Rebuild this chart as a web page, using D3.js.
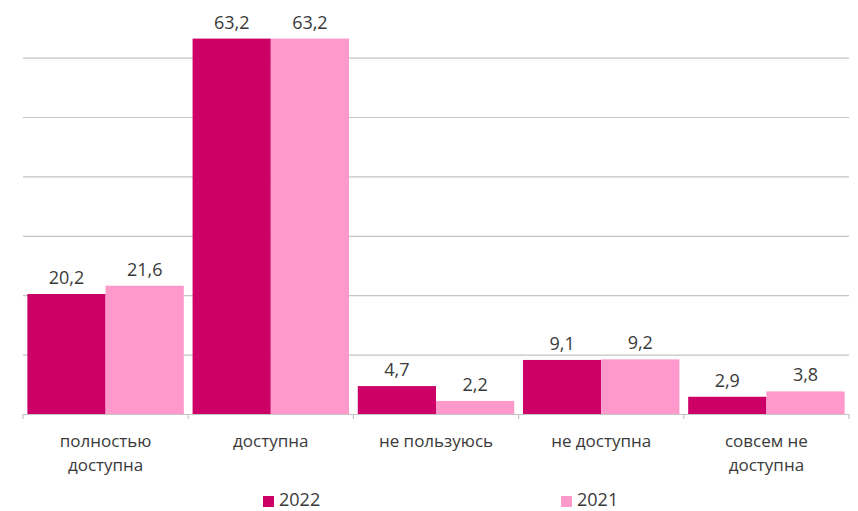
<!DOCTYPE html>
<html><head><meta charset="utf-8">
<script src="https://cdn.jsdelivr.net/npm/d3@7"></script>
<style>body{margin:0;background:#fff}svg{display:block}</style>
</head><body><svg id="c" width="858" height="511"></svg>
<script>
const categories = [["полностью","доступна"],["доступна"],["не пользуюсь"],["не доступна"],["совсем не","доступна"]];
const catKeys = ["полностью доступна","доступна","не пользуюсь","не доступна","совсем не доступна"];
const series = ["2022","2021"];
const values2022 = [20.2, 63.2, 4.7, 9.1, 2.9];
const values2021 = [21.6, 63.2, 2.2, 9.2, 3.8];
const yTicks = [0,10,20,30,40,50,60,70];
const colors = ["#CC0066","#FF99CC"];

const svg = d3.select("#c");
const font = "'Open Sans', sans-serif";
const left = 23, right = 849, base = 414;
const x = d3.scaleBand().domain(catKeys).range([left,right]).paddingInner(0.053).paddingOuter(0.0265);
const xs = d3.scaleBand().domain(series).range([0,x.bandwidth()]);
const y = d3.scaleLinear().domain([0,70]).range([base,-1.8]);

// gridlines
svg.append("g").selectAll("line").data(yTicks.filter(t=>t>0 && y(t)>0)).join("line")
  .attr("x1",left).attr("x2",right).attr("y1",d=>y(d)+0.5).attr("y2",d=>y(d)+0.5)
  .attr("stroke","#c4c4c4").attr("stroke-width",1.2);

const data = catKeys.map((c,i)=>({c, v:[values2022[i],values2021[i]]}));
const g = svg.append("g");
data.forEach(d=>{
  d.v.forEach((v,j)=>{
    const bx = x(d.c)+xs(series[j]);
    g.append("rect").attr("x",bx).attr("y",y(v)).attr("width",xs.bandwidth()).attr("height",base-y(v)).attr("fill",colors[j]);
    g.append("text").attr("x",bx+xs.bandwidth()/2).attr("y",y(v)-10).attr("text-anchor","middle")
      .attr("font-family",font).attr("font-size",18).attr("fill","#3a3a3a").text(String(v).replace(".",","));
  });
});

// axis baseline and ticks
svg.append("line").attr("x1",left).attr("x2",right).attr("y1",base+0.5).attr("y2",base+0.5).attr("stroke","#c4c4c4").attr("stroke-width",1.2);
const edges = d3.range(catKeys.length+1).map(i=>left+(right-left)*i/catKeys.length);
svg.append("g").selectAll("line").data(edges).join("line")
  .attr("x1",d=>d).attr("x2",d=>d).attr("y1",base).attr("y2",base+5).attr("stroke","#c4c4c4").attr("stroke-width",1.2);

// category labels
categories.forEach((lines,i)=>{
  const cx = x(catKeys[i])+x.bandwidth()/2;
  lines.forEach((t,k)=>{
    svg.append("text").attr("x",cx).attr("y",447+k*24).attr("text-anchor","middle")
      .attr("font-family",font).attr("font-size",17).attr("fill","#3a3a3a").text(t);
  });
});

// legend
const legX = [263, 561];
series.forEach((s,j)=>{
  svg.append("rect").attr("x",legX[j]).attr("y",496).attr("width",11).attr("height",11).attr("fill",colors[j]);
  svg.append("text").attr("x",legX[j]+16).attr("y",506).attr("font-family",font).attr("font-size",18).attr("fill","#3a3a3a").text(s);
});
</script></body></html>
